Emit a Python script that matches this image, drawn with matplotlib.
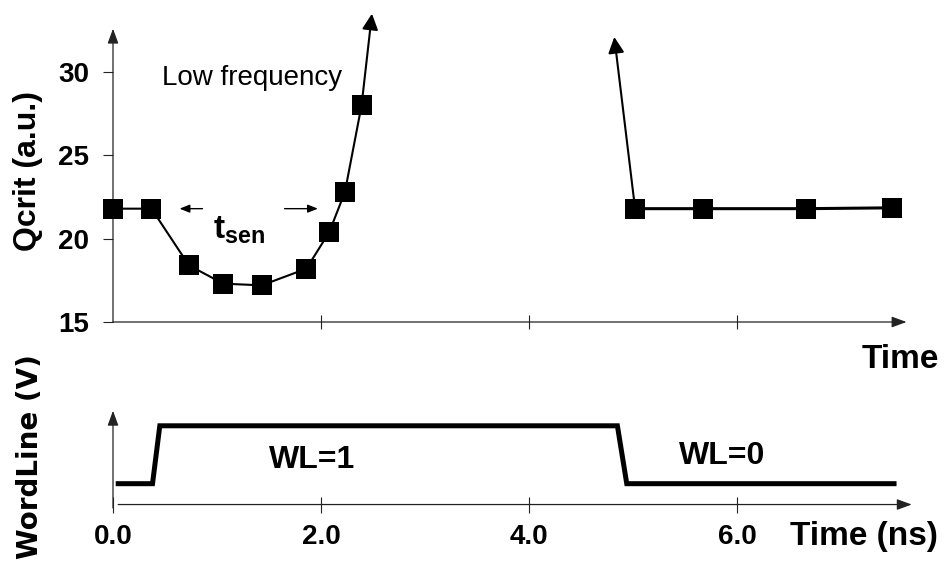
import matplotlib
matplotlib.use('Agg')
import matplotlib.pyplot as plt

# Qcrit vs time (top panel)
q_time_lo = [0.0, 0.37, 0.73, 1.06, 1.43, 1.86, 2.08, 2.23, 2.39]
q_lo = [21.8, 21.8, 18.4, 17.3, 17.2, 18.2, 20.4, 22.8, 28.0]
q_time_hi = [5.02, 5.67, 6.66, 7.49]
q_hi = [21.8, 21.8, 21.8, 21.85]
rise_tip = (2.49, 33.5)
fall_tip = (4.82, 32.1)

# wordline waveform (bottom panel)
wl_time = [0.05, 0.38, 0.45, 4.85, 4.94, 7.51]
wl = [0, 0, 1, 1, 0, 0]

q_ticks = [15, 20, 25, 30]
t_ticks = [0, 2, 4, 6]
t_labels = ['0.0', '2.0', '4.0', '6.0']

plt.rcParams['font.family'] = ['Liberation Sans', 'DejaVu Sans']
plt.rcParams['font.weight'] = 'bold'
plt.rcParams['mathtext.fontset'] = 'custom'
plt.rcParams['mathtext.bf'] = 'Liberation Sans:bold'
plt.rcParams['mathtext.rm'] = 'Liberation Sans:bold'

W, H = 948, 566
fig = plt.figure(figsize=(W / 100, H / 100), dpi=100)

px_ns = 104.0
x0 = 113
xmax = 7.7

def axes_box(bottom_px, top_px):
    return [x0 / W, (H - bottom_px) / H, xmax * px_ns / W, (bottom_px - top_px) / H]

axis_col = '#222222'
arrow_kw = dict(arrowstyle='-|>,head_length=0.6,head_width=0.22', color=axis_col,
                lw=0.9, shrinkA=0, shrinkB=0, mutation_scale=15)

# ---- top panel
ax = fig.add_axes(axes_box(322, 10))
ax.set_xlim(0, xmax)
ax.set_ylim(15, 33.72)
for s in ax.spines.values():
    s.set_visible(False)
ax.annotate('', xy=(0, 32.6), xytext=(0, 15), arrowprops=arrow_kw, annotation_clip=False)
ax.annotate('', xy=(7.63, 15), xytext=(0, 15), arrowprops=arrow_kw, annotation_clip=False)

ax.set_yticks(q_ticks)
ax.tick_params(axis='y', direction='out', length=7, width=0.8, color=axis_col,
               labelsize=20, pad=10)
ax.set_xticks([2, 4, 6])
ax.tick_params(axis='x', direction='inout', length=10, width=0.8, color=axis_col,
               labelbottom=False)

ax.plot(q_time_lo, q_lo, color='black', lw=1.5, marker='s', ms=14.4, mew=0,
        clip_on=False, zorder=3)
ax.plot(q_time_hi, q_hi, color='black', lw=2.2, marker='s', ms=14.4, mew=0,
        clip_on=False, zorder=3)
line_arrow = dict(arrowstyle='-|>,head_length=0.6,head_width=0.3', color='black',
                  lw=1.5, shrinkA=0, shrinkB=0, mutation_scale=16)
ax.annotate('', xy=rise_tip, xytext=(q_time_lo[-1], q_lo[-1]), arrowprops=line_arrow,
            annotation_clip=False)
ax.annotate('', xy=fall_tip, xytext=(q_time_hi[0], q_hi[0]), arrowprops=line_arrow,
            annotation_clip=False)

ax.text(0.47, 29.2, 'Low frequency', fontsize=20, fontweight='normal', va='baseline')
ax.text(0.96, 20.0, r'$\mathbf{t_{sen}}$', fontsize=24, va='baseline')
small_arrow = dict(arrowstyle='-|>,head_length=0.5,head_width=0.2', color='black',
                   lw=1.0, shrinkA=0, shrinkB=0, mutation_scale=12)
ax.annotate('', xy=(0.64, 21.8), xytext=(0.86, 21.8), arrowprops=small_arrow)
ax.annotate('', xy=(1.97, 21.8), xytext=(1.65, 21.8), arrowprops=small_arrow)

fig.text(939 / W, 1 - 359 / H, 'Time', fontsize=24, ha='right', va='center')
fig.text(28 / W, 1 - 171 / H, 'Qcrit (a.u.)', fontsize=23, rotation=90,
         ha='center', va='center')

# ---- bottom panel
bx = fig.add_axes(axes_box(508, 409))
bx.set_xlim(0, xmax)
bx.set_ylim(-0.42, 1.29)
for s in bx.spines.values():
    s.set_visible(False)
bx.annotate('', xy=(0, 1.26), xytext=(0, -0.42), arrowprops=arrow_kw, annotation_clip=False)
bx.annotate('', xy=(7.68, -0.36), xytext=(0.05, -0.36), arrowprops=arrow_kw,
            annotation_clip=False)
bx.set_yticks([])
bx.set_xticks(t_ticks)
bx.set_xticklabels(t_labels)
bx.xaxis.get_major_ticks()[0].tick1line.set_visible(False)
bx.tick_params(axis='x', direction='inout', length=12, width=0.8, color=axis_col,
               labelsize=20, pad=8)
# tick marks sit on the arrow axis line
bx.spines['bottom'].set_position(('data', -0.36))

bx.plot(wl_time, wl, color='black', lw=3.6, solid_joinstyle='miter', clip_on=False)
bx.text(1.91, 0.41, 'WL=1', fontsize=23, ha='center', va='center')
bx.text(5.86, 0.48, 'WL=0', fontsize=23, ha='center', va='center')
bx.text(6.51, -0.91, 'Time (ns)', fontsize=24, ha='left', va='center')

fig.text(30 / W, 1 - 457 / H, 'WordLine (V)', fontsize=20, rotation=90,
         ha='center', va='center', family=['DejaVu Sans'])

fig.savefig('out.png', dpi=100)
